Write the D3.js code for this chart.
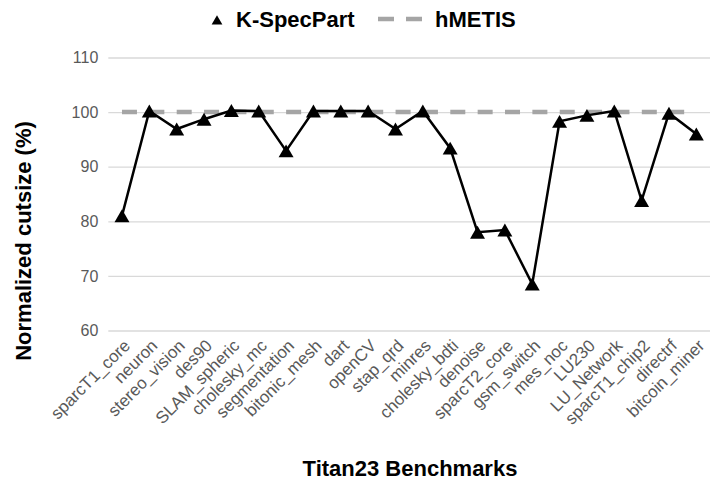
<!DOCTYPE html>
<html lang="en">
<head>
    <meta charset="UTF-8">
    <title>K-SpecPart vs hMETIS</title>
    <script src="https://d3js.org/d3.v7.min.js"></script>
    <style>
        body { margin: 0; background: #fff; }
        text { font-family: Arial, "Liberation Sans", sans-serif; }
    </style>
</head>
<body>
<script>
    var benchmarks = ["sparcT1_core", "neuron", "stereo_vision", "des90", "SLAM_spheric",
        "cholesky_mc", "segmentation", "bitonic_mesh", "dart", "openCV", "stap_qrd",
        "minres", "cholesky_bdti", "denoise", "sparcT2_core", "gsm_switch", "mes_noc",
        "LU230", "LU_Network", "sparcT1_chip2", "directrf", "bitcoin_miner"];
    var kspecpart = [81.0, 100.2, 96.9, 98.7, 100.3, 100.2, 92.9, 100.2, 100.2, 100.2, 96.9,
        100.2, 93.4, 78.0, 78.4, 68.5, 98.3, 99.4, 100.2, 83.8, 99.8, 96.0];
    var hmetis = benchmarks.map(function () { return 100; });
    var yTicks = [60, 70, 80, 90, 100, 110];

    var width = 721, height = 486;
    var svg = d3.select("body").append("svg")
        .attr("width", width)
        .attr("height", height);

    var x = d3.scaleBand().domain(benchmarks).range([108.3, 710]);
    var y = d3.scaleLinear().domain([60, 110]).range([330.5, 57.5]);
    function cx(d) { return x(d) + x.bandwidth() / 2; }

    // gridlines + y labels
    var yAxis = svg.append("g")
        .attr("transform", "translate(108.3,0)")
        .call(d3.axisLeft(y).tickValues(yTicks).tickSize(-(710 - 108.3)).tickPadding(10));
    yAxis.select(".domain").remove();
    yAxis.selectAll(".tick line").attr("stroke", "#d9d9d9").attr("stroke-width", 1.3);
    yAxis.selectAll(".tick text")
        .attr("fill", "#595959")
        .style("font-size", "16px")
        .style("font-family", "Arial, 'Liberation Sans', sans-serif");

    // x labels, rotated
    var xAxis = svg.append("g")
        .attr("transform", "translate(0,330.5)")
        .call(d3.axisBottom(x).tickSize(0).tickPadding(0));
    xAxis.select(".domain").remove();
    xAxis.selectAll(".tick text")
        .attr("fill", "#595959")
        .style("font-size", "17px")
        .style("font-family", "Arial, 'Liberation Sans', sans-serif")
        .attr("text-anchor", "end")
        .attr("dy", "0.35em")
        .attr("transform", "translate(5,12) rotate(-45)");

    // hMETIS dashed reference
    var line = d3.line()
        .x(function (d, i) { return cx(benchmarks[i]); })
        .y(function (d) { return y(d); });

    svg.append("path")
        .datum(hmetis)
        .attr("d", line)
        .attr("fill", "none")
        .attr("stroke", "#a5a5a5")
        .attr("stroke-width", 4.5)
        .attr("stroke-dasharray", "15,12.36");

    // K-SpecPart line + markers
    svg.append("path")
        .datum(kspecpart)
        .attr("d", line)
        .attr("fill", "none")
        .attr("stroke", "#000")
        .attr("stroke-width", 2.5);

    var triSize = 97;
    var triOff = Math.sqrt(triSize / (Math.sqrt(3) * 3)) / 2;
    svg.append("g").selectAll("path")
        .data(kspecpart)
        .enter()
        .append("path")
        .attr("d", d3.symbol(d3.symbolTriangle, triSize))
        .attr("fill", "#000")
        .attr("transform", function (d, i) {
            return "translate(" + cx(benchmarks[i]) + "," + (y(d) + triOff) + ")";
        });

    // axis titles
    svg.append("text")
        .attr("x", 410)
        .attr("y", 476)
        .attr("text-anchor", "middle")
        .style("font-size", "22px")
        .style("font-weight", "bold")
        .text("Titan23 Benchmarks");

    svg.append("text")
        .attr("transform", "translate(31,241) rotate(-90)")
        .attr("text-anchor", "middle")
        .style("font-size", "22px")
        .style("font-weight", "bold")
        .text("Normalized cutsize (%)");

    // legend
    var legend = svg.append("g");
    legend.append("path")
        .attr("d", d3.symbol(d3.symbolTriangle, 50))
        .attr("transform", "translate(217," + (20 + 1.5) + ")")
        .attr("fill", "#000");
    legend.append("text")
        .attr("x", 236)
        .attr("y", 26.5)
        .style("font-size", "22px")
        .style("font-weight", "bold")
        .text("K-SpecPart");
    legend.append("line")
        .attr("x1", 378).attr("x2", 424)
        .attr("y1", 19).attr("y2", 19)
        .attr("stroke", "#a5a5a5")
        .attr("stroke-width", 4.5)
        .attr("stroke-dasharray", "16,12");
    legend.append("text")
        .attr("x", 435)
        .attr("y", 26.5)
        .style("font-size", "22px")
        .style("font-weight", "bold")
        .text("hMETIS");
</script>
</body>
</html>
